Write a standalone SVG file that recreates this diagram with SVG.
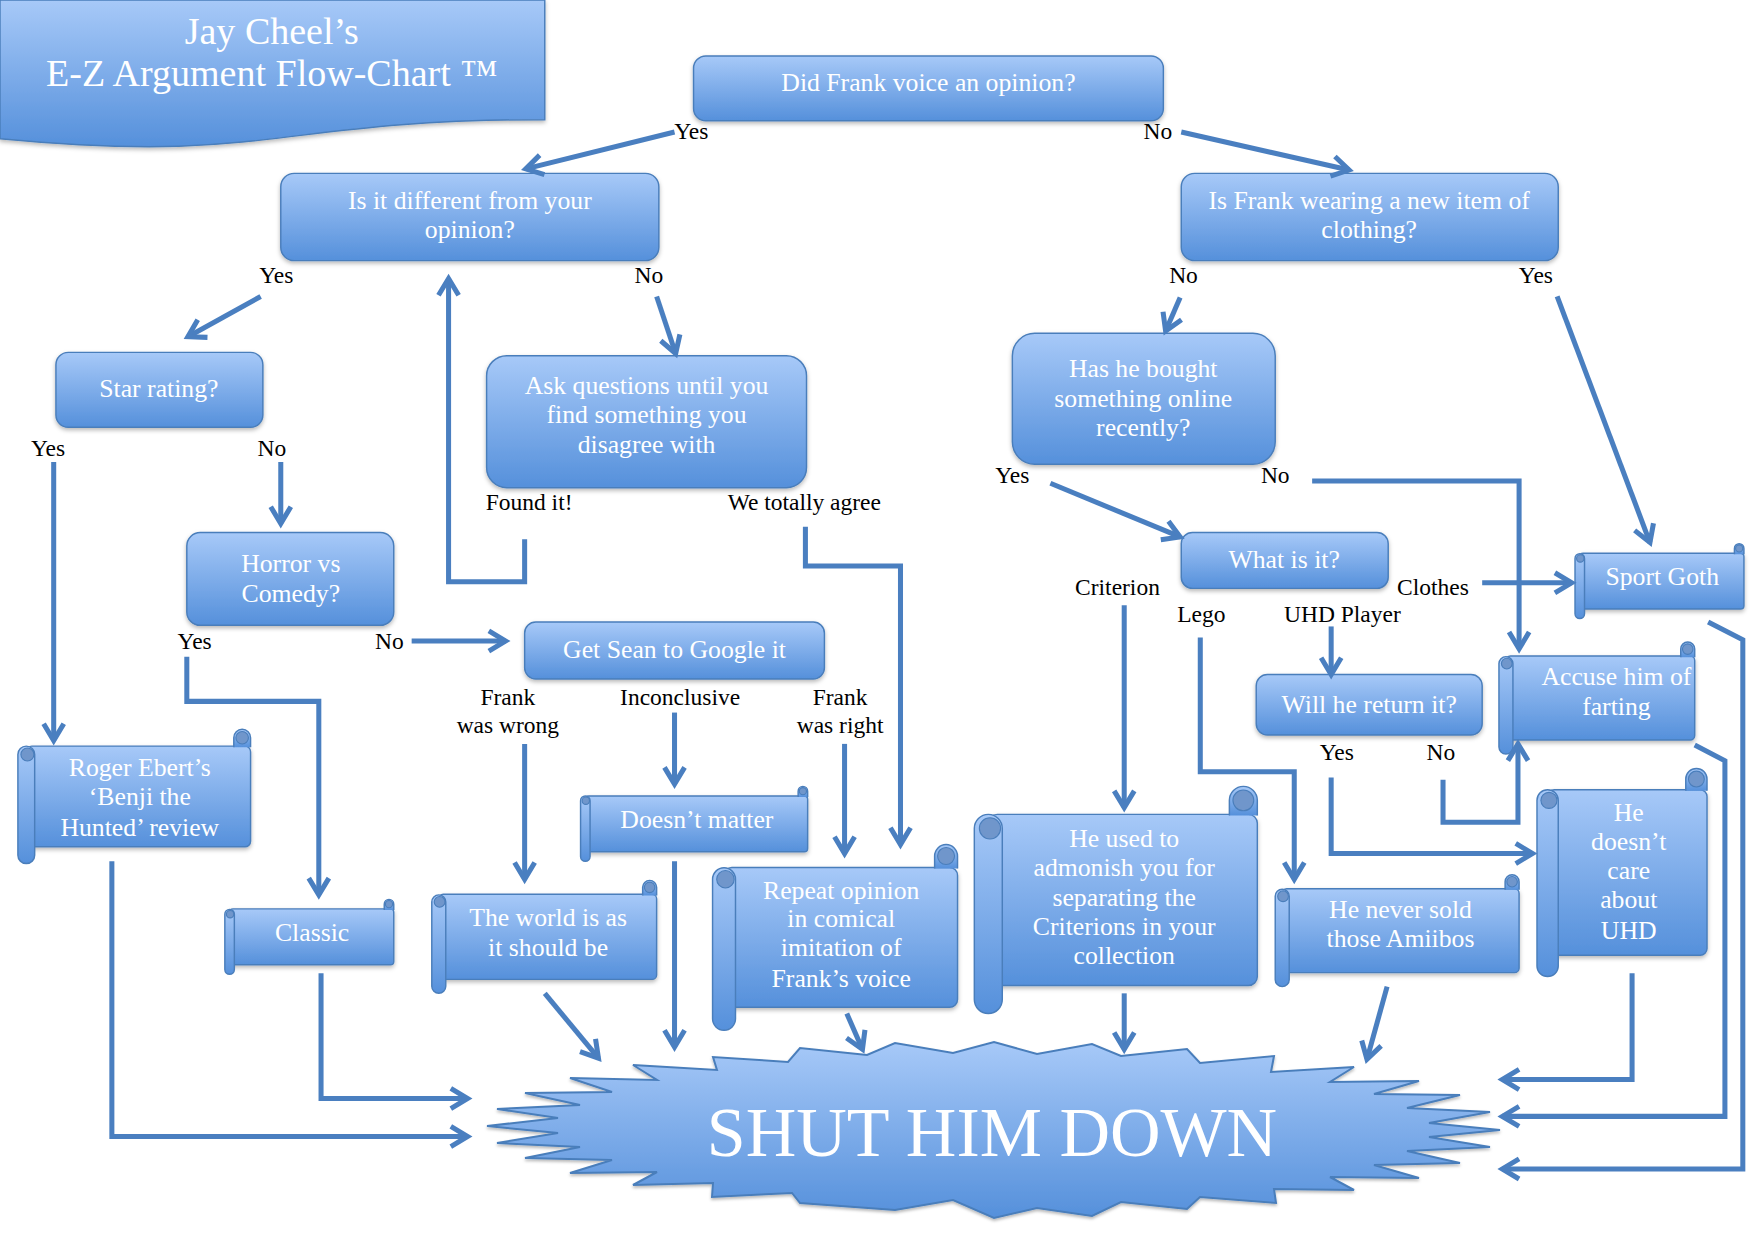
<svg xmlns="http://www.w3.org/2000/svg" width="1754" height="1240" viewBox="0 0 1754 1240">
<defs>
<linearGradient id="g" x1="0" y1="0" x2="0" y2="1"><stop offset="0" stop-color="#a7c9f8"/><stop offset="1" stop-color="#5590db"/></linearGradient>
<filter id="sh" x="-10%" y="-10%" width="120%" height="130%"><feDropShadow dx="0" dy="2" stdDeviation="1.8" flood-color="#000" flood-opacity="0.28"/></filter>
<marker id="ah" markerUnits="userSpaceOnUse" markerWidth="30" markerHeight="30" viewBox="-22 -15 30 30" refX="0" refY="0" orient="auto"><path d="M-15,-9 L0,0 L-15,9" fill="none" stroke="#4a7fc0" stroke-width="4.5"/></marker>
<style>
.box{fill:url(#g);stroke:#4a7ebb;stroke-width:1.3;filter:url(#sh)}
.pt{fill:url(#g);stroke:#4a7ebb;stroke-width:1.3}
.cu{fill:#7096cb;stroke:#4a7ebb;stroke-width:1}
.t{font-family:"Liberation Serif",serif;fill:#fff;font-size:23px;text-anchor:middle}
.tt{font-family:"Liberation Serif",serif;fill:#fff;font-size:34px;text-anchor:middle}
.l{font-family:"Liberation Serif",serif;fill:#000;font-size:21px;text-anchor:middle}
.c{fill:none;stroke:#4a7fc0;stroke-width:4.5;marker-end:url(#ah)}
</style>
</defs>
<rect width="1754" height="1240" fill="#fff"/>
<g transform="scale(1.118622)">
<g id="title"><path class="box" d="M0,0 H487 V107 C243,107 243,147 0,124 Z"/><text class="tt" x="243" y="39">Jay Cheel’s</text><text class="tt" x="243" y="77">E-Z Argument Flow-Chart ™</text></g>
<g id="n-opinion"><rect class="box" x="620" y="50" width="420" height="58" rx="11"/><text class="t" x="830" y="81">Did Frank voice an opinion?</text></g>
<g id="n-different"><rect class="box" x="251" y="155" width="338" height="78" rx="12"/><text class="t" x="420" y="187">Is it different from your</text><text class="t" x="420" y="213">opinion?</text></g>
<g id="n-clothing"><rect class="box" x="1056" y="155" width="337" height="78" rx="12"/><text class="t" x="1224" y="187">Is Frank wearing a new item of</text><text class="t" x="1224" y="213">clothing?</text></g>
<g id="n-star"><rect class="box" x="50" y="315" width="185" height="67" rx="11"/><text class="t" x="142" y="355">Star rating?</text></g>
<g id="n-horror"><rect class="box" x="167" y="476" width="185" height="83" rx="12"/><text class="t" x="260" y="511">Horror vs</text><text class="t" x="260" y="538">Comedy?</text></g>
<g id="n-ask"><rect class="box" x="435" y="318" width="286" height="118" rx="18"/><text class="t" x="578" y="352">Ask questions until you</text><text class="t" x="578" y="378">find something you</text><text class="t" x="578" y="405">disagree with</text></g>
<g id="n-sean"><rect class="box" x="469" y="556" width="268" height="51" rx="10"/><text class="t" x="603" y="588">Get Sean to Google it</text></g>
<g id="n-bought"><rect class="box" x="905" y="298" width="235" height="117" rx="20"/><text class="t" x="1022" y="337">Has he bought</text><text class="t" x="1022" y="364">something online</text><text class="t" x="1022" y="390">recently?</text></g>
<g id="n-what"><rect class="box" x="1056" y="476" width="185" height="50" rx="10"/><text class="t" x="1148" y="508">What is it?</text></g>
<g id="n-return"><rect class="box" x="1123" y="603" width="202" height="54" rx="10"/><text class="t" x="1224" y="637">Will he return it?</text></g>

<g id="s-roger"><rect class="box" x="23.5" y="667" width="200.5" height="90" rx="5"/><path class="pt" d="M209,668 V659.5 A7.5,7.5 0 0 1 224,659.5 V668"/><circle class="cu" cx="216.5" cy="659.5" r="5.6"/><path class="pt" d="M16,674.5 A7.5,7.5 0 0 1 31,674.5 V764.5 A7.5,7.5 0 0 1 16,764.5 Z"/><circle class="cu" cx="24.5" cy="674.5" r="5.8"/><text class="t" x="125" y="694">Roger Ebert’s</text><text class="t" x="125" y="720">‘Benji the</text><text class="t" x="125" y="747">Hunted’ review</text></g>
<g id="s-classic"><rect class="box" x="205.25" y="812.5" width="146.75" height="50" rx="3"/><path class="pt" d="M343.5,813.5 V808.25 A4.25,4.25 0 0 1 352,808.25 V813.5"/><circle class="cu" cx="347.75" cy="808.25" r="3.2"/><path class="pt" d="M201,817.25 A4.25,4.25 0 0 1 209.5,817.25 V866.75 A4.25,4.25 0 0 1 201,866.75 Z"/><circle class="cu" cx="205.7" cy="817.25" r="3.3"/><text class="t" x="279" y="841">Classic</text></g>
<g id="s-world"><rect class="box" x="392.25" y="799.5" width="194.75" height="76" rx="4"/><path class="pt" d="M574.5,800.5 V793.25 A6.25,6.25 0 0 1 587,793.25 V800.5"/><circle class="cu" cx="580.75" cy="793.25" r="4.7"/><path class="pt" d="M386,806.25 A6.25,6.25 0 0 1 398.5,806.25 V881.75 A6.25,6.25 0 0 1 386,881.75 Z"/><circle class="cu" cx="393" cy="806.25" r="4.8"/><text class="t" x="490" y="828">The world is as</text><text class="t" x="490" y="855">it should be</text></g>
<g id="s-doesnt"><rect class="box" x="523.25" y="711.5" width="198.75" height="50" rx="3"/><path class="pt" d="M713.5,712.5 V707.25 A4.25,4.25 0 0 1 722,707.25 V712.5"/><circle class="cu" cx="717.75" cy="707.25" r="3.2"/><path class="pt" d="M519,715.75 A4.25,4.25 0 0 1 527.5,715.75 V765.75 A4.25,4.25 0 0 1 519,765.75 Z"/><circle class="cu" cx="523.7" cy="715.75" r="3.3"/><text class="t" x="623" y="740">Doesn’t matter</text></g>
<g id="s-repeat"><rect class="box" x="647.25" y="775.5" width="208.75" height="125" rx="7"/><path class="pt" d="M835.5,776.5 V765.25 A10.25,10.25 0 0 1 856,765.25 V776.5"/><circle class="cu" cx="845.75" cy="765.25" r="7.6"/><path class="pt" d="M637,786 A10.25,10.25 0 0 1 657.5,786 V910.75 A10.25,10.25 0 0 1 637,910.75 Z"/><circle class="cu" cx="648.5" cy="786" r="7.8"/><text class="t" x="752" y="804">Repeat opinion</text><text class="t" x="752" y="829">in comical</text><text class="t" x="752" y="855">imitation of</text><text class="t" x="752" y="882">Frank’s voice</text></g>
<g id="s-admonish"><rect class="box" x="883.5" y="728" width="240.5" height="153" rx="8"/><path class="pt" d="M1099,729 V715.5 A12.5,12.5 0 0 1 1124,715.5 V729"/><circle class="cu" cx="1111.5" cy="715.5" r="9.3"/><path class="pt" d="M871,740.5 A12.5,12.5 0 0 1 896,740.5 V893.5 A12.5,12.5 0 0 1 871,893.5 Z"/><circle class="cu" cx="885" cy="740.5" r="9.5"/><text class="t" x="1005" y="757">He used to</text><text class="t" x="1005" y="783">admonish you for</text><text class="t" x="1005" y="810">separating the</text><text class="t" x="1005" y="836">Criterions in your</text><text class="t" x="1005" y="862">collection</text></g>
<g id="s-amiibos"><rect class="box" x="1146.25" y="794.5" width="211.75" height="75" rx="4"/><path class="pt" d="M1345.5,795.5 V788.25 A6.25,6.25 0 0 1 1358,788.25 V795.5"/><circle class="cu" cx="1351.75" cy="788.25" r="4.7"/><path class="pt" d="M1140,801.25 A6.25,6.25 0 0 1 1152.5,801.25 V875.75 A6.25,6.25 0 0 1 1140,875.75 Z"/><circle class="cu" cx="1147" cy="801.25" r="4.8"/><text class="t" x="1252" y="821">He never sold</text><text class="t" x="1252" y="847">those Amiibos</text></g>
<g id="s-uhd"><rect class="box" x="1383.5" y="706" width="142.5" height="148" rx="6"/><path class="pt" d="M1507,707 V696.5 A9.5,9.5 0 0 1 1526,696.5 V707"/><circle class="cu" cx="1516.5" cy="696.5" r="7.1"/><path class="pt" d="M1374,715.5 A9.5,9.5 0 0 1 1393,715.5 V863.5 A9.5,9.5 0 0 1 1374,863.5 Z"/><circle class="cu" cx="1384.7" cy="715.5" r="7.2"/><text class="t" x="1456" y="734">He</text><text class="t" x="1456" y="760">doesn’t</text><text class="t" x="1456" y="786">care</text><text class="t" x="1456" y="812">about</text><text class="t" x="1456" y="839">UHD</text></g>
<g id="s-goth"><rect class="box" x="1412.25" y="494.5" width="146.75" height="50" rx="3"/><path class="pt" d="M1550.5,495.5 V490.25 A4.25,4.25 0 0 1 1559,490.25 V495.5"/><circle class="cu" cx="1554.75" cy="490.25" r="3.2"/><path class="pt" d="M1408,499.25 A4.25,4.25 0 0 1 1416.5,499.25 V548.75 A4.25,4.25 0 0 1 1408,548.75 Z"/><circle class="cu" cx="1412.7" cy="499.25" r="3.3"/><text class="t" x="1486" y="523">Sport Goth</text></g>
<g id="s-farting"><rect class="box" x="1346.25" y="586.5" width="168.75" height="75" rx="4"/><path class="pt" d="M1502.5,587.5 V580.25 A6.25,6.25 0 0 1 1515,580.25 V587.5"/><circle class="cu" cx="1508.75" cy="580.25" r="4.7"/><path class="pt" d="M1340,593.25 A6.25,6.25 0 0 1 1352.5,593.25 V667.75 A6.25,6.25 0 0 1 1340,667.75 Z"/><circle class="cu" cx="1347" cy="593.25" r="4.8"/><text class="t" x="1445" y="612">Accuse him of</text><text class="t" x="1445" y="639">farting</text></g>
</g>

<g id="shut"><polygon class="box" points="717,1070 713,1057 788,1062 800,1048 867,1055 895,1043 953,1053 994,1042 1037,1054 1092,1044 1121,1056 1187,1049 1200,1063 1274,1056 1271,1072 1354,1067 1330,1082 1419,1081 1374,1094 1460,1095 1407,1108 1490,1112 1429,1123 1500,1130 1429,1137 1490,1147 1407,1151 1460,1163 1374,1165 1419,1178 1330,1177 1354,1190 1274,1189 1276,1203 1200,1197 1187,1209 1121,1202 1092,1216 1037,1208 994,1218 953,1200 895,1210 800,1203 792,1193 712,1197 713,1183 633,1185 657,1172 570,1173 612,1160 525,1158 580,1147 497,1143 558,1133 487,1126 558,1118 497,1109 580,1105 525,1093 612,1092 570,1078 657,1080 633,1065" style="stroke-width:2"/><text x="992" y="1156" style="font-family:'Liberation Serif',serif;fill:#fff;font-size:70px;text-anchor:middle">SHUT HIM DOWN</text></g>

<g transform="scale(1.118622)">
<g id="connectors">
<path class="c" d="M603,118 L470,151"/>
<path class="c" d="M1056,118 L1206,152"/>
<path class="c" d="M233,265 L168,301"/>
<path class="c" d="M587,265 L604,316"/>
<path class="c" d="M1055,266 L1042,296"/>
<path class="c" d="M1392,265 L1475,485"/>
<path class="c" d="M48,413 V662"/>
<path class="c" d="M251,413 V468"/>
<path class="c" d="M167,587 V627 H285 V800"/>
<path class="c" d="M368,573 H452"/>
<path class="c" d="M469,482 V520 H401 V249"/>
<path class="c" d="M720,471 V506 H805 V755"/>
<path class="c" d="M469,665 V786"/>
<path class="c" d="M603,637 V701"/>
<path class="c" d="M755,665 V763"/>
<path class="c" d="M603,770 V936"/>
<path class="c" d="M487,888 L535,946"/>
<path class="c" d="M757,906 L771,938"/>
<path class="c" d="M1005,888 V938"/>
<path class="c" d="M939,432 L1055,480"/>
<path class="c" d="M1173,430 H1358 V580"/>
<path class="c" d="M1005,541 V722"/>
<path class="c" d="M1073,570 V690 H1157 V786"/>
<path class="c" d="M1190,560 V603"/>
<path class="c" d="M1325,521 H1405"/>
<path class="c" d="M1190,695 V763 H1370"/>
<path class="c" d="M1290,697 V735 H1357 V665"/>
<path class="c" d="M1240,882 L1222,947"/>
<path class="c" d="M1459,870 V965 H1343"/>
<path class="c" d="M1515,666 L1542,680 V998 H1343"/>
<path class="c" d="M1527,556 L1558,572 V1045 H1343"/>
<path class="c" d="M100,770 V1016 H418"/>
<path class="c" d="M287,870 V982 H418"/>
</g>
<g id="labels">
<text class="l" x="618" y="124">Yes</text>
<text class="l" x="1035" y="124">No</text>
<text class="l" x="247" y="253">Yes</text>
<text class="l" x="580" y="253">No</text>
<text class="l" x="1058" y="253">No</text>
<text class="l" x="1373" y="253">Yes</text>
<text class="l" x="43" y="408">Yes</text>
<text class="l" x="243" y="408">No</text>
<text class="l" x="174" y="580">Yes</text>
<text class="l" x="348" y="580">No</text>
<text class="l" x="473" y="456">Found it!</text>
<text class="l" x="719" y="456">We totally agree</text>
<text class="l" x="454" y="630">Frank</text>
<text class="l" x="454" y="655">was wrong</text>
<text class="l" x="608" y="630">Inconclusive</text>
<text class="l" x="751" y="630">Frank</text>
<text class="l" x="751" y="655">was right</text>
<text class="l" x="905" y="432">Yes</text>
<text class="l" x="1140" y="432">No</text>
<text class="l" x="999" y="532">Criterion</text>
<text class="l" x="1281" y="532">Clothes</text>
<text class="l" x="1074" y="556">Lego</text>
<text class="l" x="1200" y="556">UHD Player</text>
<text class="l" x="1195" y="679">Yes</text>
<text class="l" x="1288" y="679">No</text>
</g>
</g>
</svg>
